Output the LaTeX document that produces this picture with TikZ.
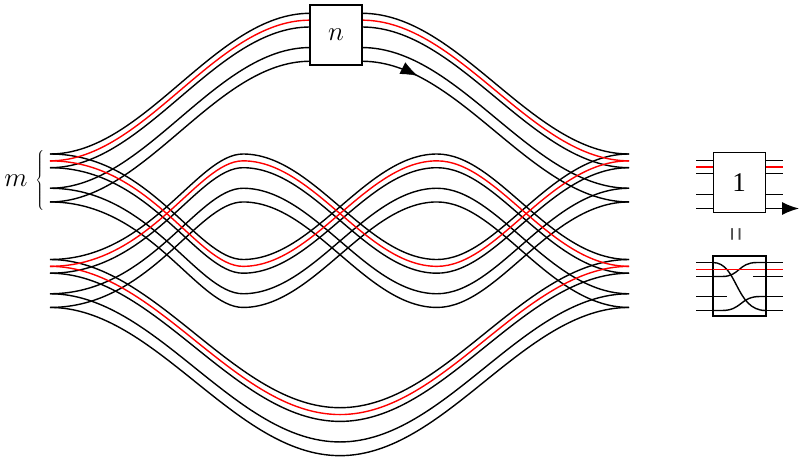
\RequirePackage{fix-cm}
\documentclass[tikz,border=0pt]{standalone}
\usepackage{fontspec}
\setmainfont{Liberation Serif}
\newfontfamily\tms{Liberation Serif}
\usetikzlibrary{arrows.meta,decorations.markings}
\begin{document}
\begin{tikzpicture}[x=1pt,y=-1pt,
  strand/.style={line width=1.4pt},
  boxstyle/.style={draw, fill=white, line width=1.3pt, minimum width=52pt,
    minimum height=60pt, inner sep=0pt, font=\fontsize{27}{30}\selectfont},
  tipstyle/.style={-{Latex[length=17pt,width=13pt]}}]
\useasboundingbox (0,0) rectangle (799,460);
\def\ya{154}\def\yb{259.5}\def\yt{13.3}\def\yu{407.7}
\foreach \o/\c in {0/black,13.7/black,34.25/black,47.95/black,6.85/red}{
  % top arc (group A to group A, through box n)
  \draw[strand,\c] (50,{\ya+\o}) .. controls (144.7,{\ya+\o}) and (215.3,{\yt+\o}) .. (310,{\yt+\o})
     -- (362,{\yt+\o}) .. controls (459.2,{\yt+\o}) and (531.8,{\ya+\o}) .. (629,{\ya+\o});
  % wave from group A
  \draw[strand,\c] (50,{\ya+\o}) .. controls (150,{\ya+\o}) and (197,{\yb+\o}) .. (243,{\yb+\o})
     .. controls (313.7,{\yb+\o}) and (366.3,{\ya+\o}) .. (437,{\ya+\o})
     .. controls (498,{\ya+\o}) and (550,{\yb+\o}) .. (629,{\yb+\o});
  % wave from group B
  \draw[strand,\c] (50,{\yb+\o}) .. controls (150,{\yb+\o}) and (197,{\ya+\o}) .. (243,{\ya+\o})
     .. controls (313.7,{\ya+\o}) and (366.3,{\yb+\o}) .. (437,{\yb+\o})
     .. controls (498,{\yb+\o}) and (550,{\ya+\o}) .. (629,{\ya+\o});
  % bottom arc
  \draw[strand,\c] (50,{\yb+\o}) .. controls (155.6,{\yb+\o}) and (234.4,{\yu+\o}) .. (340,{\yu+\o})
     .. controls (445.3,{\yu+\o}) and (523.7,{\yb+\o}) .. (629,{\yb+\o});
}
% box n
\node[boxstyle] (boxn) at (336,35) {$n$};
% arrow on the lowest strand after box n
\path[postaction={decorate}, decoration={markings,
   mark=at position 58pt with {\arrow{Latex[length=17pt,width=13pt]}}}]
   (362,{\yt+47.95}) .. controls (459.2,{\yt+47.95}) and (531.8,{\ya+47.95}) .. (629,{\ya+47.95});
% m and brace
\node[font=\fontsize{27}{30}\selectfont, inner sep=0pt] (m) at (16,181) {$m$};
\node[font=\fontsize{26}{30}\selectfont, inner sep=0pt] (brace) at (40.5,180)
  {$\left\{\vcenter{\hbox{\rule{0pt}{60pt}}}\right.$};

% upper small box "1"
\foreach \o/\c in {160.5/black,173.5/black,194.5/black,167/red}{
  \draw[strand,\c] (696,\o) -- (712.7,\o);
  \draw[strand,\c] (765.7,\o) -- (783.3,\o);
}
\draw[strand] (696,208.5) -- (712.7,208.5);
\coordinate (tipend) at (799,208.5);
\node[boxstyle] (box1) at (739.2,182.7) {\tms 1};
\draw[strand,tipstyle] (box1.east |- tipend) -- (tipend);

% equals sign between the small boxes
\node[rotate=90, text=black!70, inner sep=0pt, font=\fontsize{25}{25}\selectfont\tms] (eq) at (739.7,234.5) {\scalebox{1}[1.5]{=}};

% lower small box (decomposition)
\node[boxstyle] (box2) at (739.2,286) {};
\draw[strand] (696,262.5) -- (712.7,262.5);
\draw[strand] (696,276.5) -- (712.7,276.5);
\draw[strand] (696,310.5) -- (712.7,310.5);
\draw[strand] (696,296.5) -- (726.7,296.5);
\draw[strand] (765.7,262.5) -- (783.3,262.5);
\draw[strand] (765.7,296.5) -- (783.3,296.5);
\draw[strand] (765.7,310.5) -- (783.3,310.5);
\draw[strand] (753.3,276.5) -- (783.3,276.5);
\draw[strand] (712.7,262.5) .. controls (738,262.5) and (735,310.5) .. (765.7,310.5);
\draw[strand] (712.7,276.5) -- (722,276.5) .. controls (740,276.5) and (738,262.5) .. (757,262.5) -- (765.7,262.5);
\draw[strand] (712.7,310.5) -- (722,310.5) .. controls (742,310.5) and (740,296.5) .. (760,296.5) -- (765.7,296.5);
\draw[strand,red] (696,269.5) -- (783.3,269.5);
\draw[line width=1.3pt] (box2.north west) rectangle (box2.south east);
\end{tikzpicture}
\end{document}
